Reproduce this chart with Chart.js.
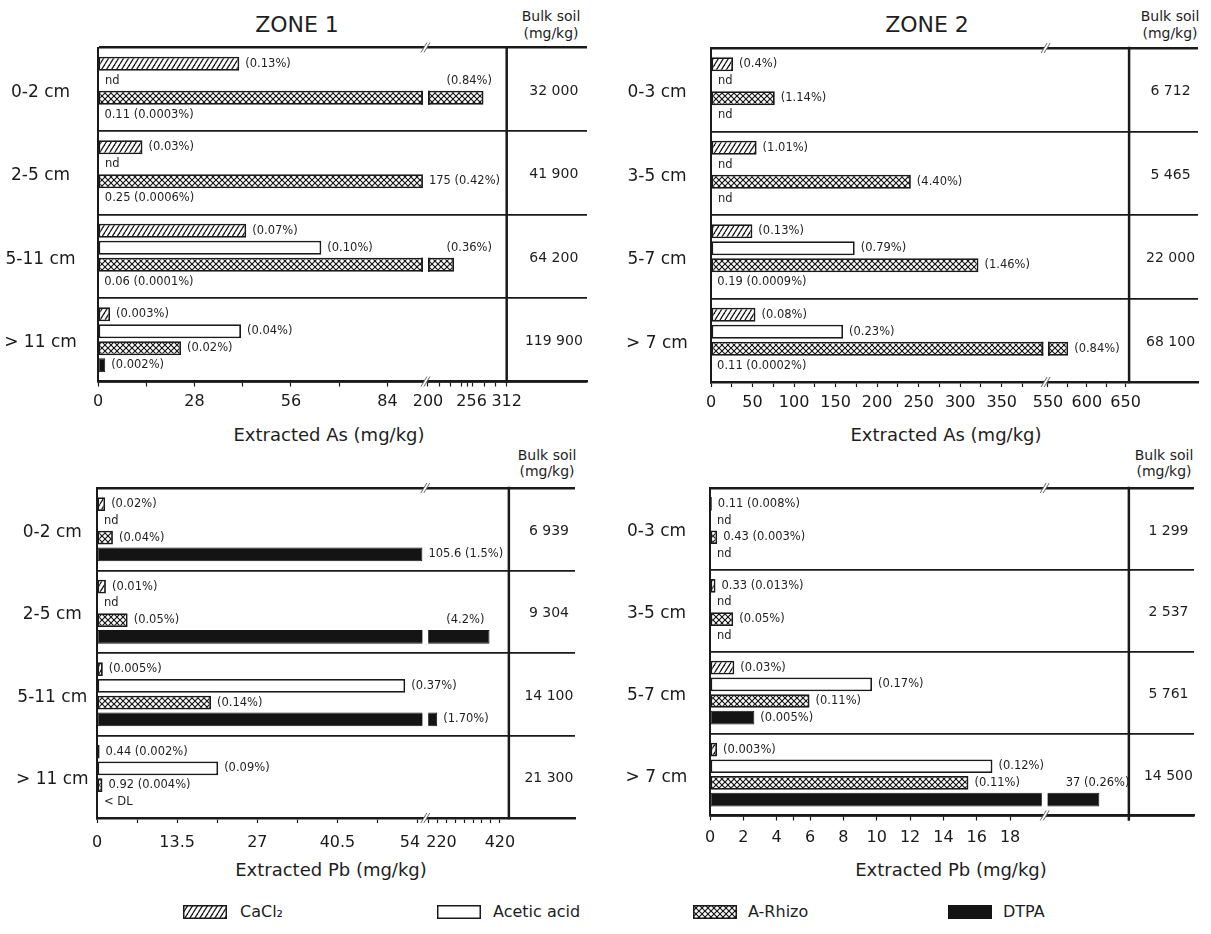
<!DOCTYPE html>
<html>
<head>
<meta charset="utf-8">
<script src="https://cdn.jsdelivr.net/npm/chart.js@4.4.1/dist/chart.umd.min.js"></script>
<style>
  body { margin:0; background:#fff; }
  #wrap { position:relative; width:1211px; height:934px; overflow:hidden; font-family:"DejaVu Sans", sans-serif; color:#1e1e1e; }
  canvas.c { position:absolute; }
  .t { position:absolute; white-space:nowrap; transform:translate(-50%,-50%); line-height:1; }
  .bulk { position:absolute; transform:translateX(-50%); text-align:center; font-size:14px; white-space:nowrap; }
  .sw { position:absolute; }
  .lt { position:absolute; transform:translateY(-50%); font-size:16px; white-space:nowrap; line-height:1; }
</style>
</head>
<body>
<div id="wrap">
  <div class="t" style="left:297px;top:25px;font-size:22px">ZONE 1</div>
  <div class="t" style="left:927px;top:25px;font-size:22px">ZONE 2</div>
  <div class="bulk" style="left:551px;top:8px;line-height:16.6px">Bulk soil<br>(mg/kg)</div>
  <div class="bulk" style="left:1170px;top:8px;line-height:16.6px">Bulk soil<br>(mg/kg)</div>
  <div class="bulk" style="left:547px;top:448px;line-height:15.5px">Bulk soil<br>(mg/kg)</div>
  <div class="bulk" style="left:1164px;top:448px;line-height:15.5px">Bulk soil<br>(mg/kg)</div>
  <div class="t" style="left:329px;top:435px;font-size:18px">Extracted As (mg/kg)</div>
  <div class="t" style="left:946px;top:435px;font-size:18px">Extracted As (mg/kg)</div>
  <div class="t" style="left:331px;top:870px;font-size:18px">Extracted Pb (mg/kg)</div>
  <div class="t" style="left:951px;top:870px;font-size:18px">Extracted Pb (mg/kg)</div>
  <canvas id="p1" class="c" width="605" height="425" style="left:0px;top:0px"></canvas>
  <canvas id="p2" class="c" width="606" height="425" style="left:605px;top:0px"></canvas>
  <canvas id="p3" class="c" width="605" height="430" style="left:0px;top:440px"></canvas>
  <canvas id="p4" class="c" width="606" height="430" style="left:605px;top:440px"></canvas>
</div>
<script>
// ---------------- DATA ----------------
const depthZ1 = ['0-2 cm', '2-5 cm', '5-11 cm', '> 11 cm'];
const depthZ2 = ['0-3 cm', '3-5 cm', '5-7 cm', '> 7 cm'];
const extractants = ['CaCl₂', 'Acetic acid', 'A-Rhizo', 'DTPA'];

// Extracted As, zone 1 (mg/kg)
const asZ1CaCl2  = [41, 12.9, 43, 3.5];
const asZ1Acetic = [null, null, 64.8, 41.5];
const asZ1ARhizo = [279, 175, 237, 24.1];
const asZ1DTPA   = [0.11, 0.25, 0.06, 2.1];
const asZ1Bulk   = ['32 000', '41 900', '64 200', '119 900'];
const asZ1NoteCaCl2  = ['(0.13%)', '(0.03%)', '(0.07%)', '(0.003%)'];
const asZ1NoteAcetic = ['nd', 'nd', '(0.10%)', '(0.04%)'];
const asZ1NoteARhizo = ['(0.84%)', '175 (0.42%)', '(0.36%)', '(0.02%)'];
const asZ1NoteDTPA   = ['0.11 (0.0003%)', '0.25 (0.0006%)', '0.06 (0.0001%)', '(0.002%)'];
const asZ1TicksMajor = [0, 28, 56, 84, 200, 256, 312];
const asZ1TicksMinor = [14, 42, 70, 216, 232, 248, 264, 280, 296];

// Extracted As, zone 2 (mg/kg)
const asZ2CaCl2  = [26.5, 54.9, 49.8, 53.5];
const asZ2Acetic = [null, null, 173, 159];
const asZ2ARhizo = [76.8, 240.6, 322, 576];
const asZ2DTPA   = [null, null, 0.19, 0.11];
const asZ2Bulk   = ['6 712', '5 465', '22 000', '68 100'];
const asZ2NoteCaCl2  = ['(0.4%)', '(1.01%)', '(0.13%)', '(0.08%)'];
const asZ2NoteAcetic = ['nd', 'nd', '(0.79%)', '(0.23%)'];
const asZ2NoteARhizo = ['(1.14%)', '(4.40%)', '(1.46%)', '(0.84%)'];
const asZ2NoteDTPA   = ['nd', 'nd', '0.19 (0.0009%)', '0.11 (0.0002%)'];
const asZ2TicksMajor = [0, 50, 100, 150, 200, 250, 300, 350, 550, 600, 650];
const asZ2TicksMinor = [25, 75, 125, 175, 225, 275, 325, 375, 575, 625];

// Extracted Pb, zone 1 (mg/kg)
const pbZ1CaCl2  = [1.37, 1.5, 0.98, 0.44];
const pbZ1Acetic = [null, null, 51.9, 20.4];
const pbZ1ARhizo = [2.68, 5.16, 19.2, 0.92];
const pbZ1DTPA   = [105.6, 391, 245, null];
const pbZ1Bulk   = ['6 939', '9 304', '14 100', '21 300'];
const pbZ1NoteCaCl2  = ['(0.02%)', '(0.01%)', '(0.005%)', '0.44 (0.002%)'];
const pbZ1NoteAcetic = ['nd', 'nd', '(0.37%)', '(0.09%)'];
const pbZ1NoteARhizo = ['(0.04%)', '(0.05%)', '(0.14%)', '0.92 (0.004%)'];
const pbZ1NoteDTPA   = ['105.6 (1.5%)', '(4.2%)', '(1.70%)', '< DL'];
const pbZ1TicksMajor = [0, 13.5, 27, 40.5, 54, 220, 420];
const pbZ1TicksMinor = [6.75, 20.25, 33.75, 47.25, 245, 270, 295, 320, 345, 370, 395];

// Extracted Pb, zone 2 (mg/kg)
const pbZ2CaCl2  = [0.11, 0.33, 1.46, 0.42];
const pbZ2Acetic = [null, null, 9.72, 16.94];
const pbZ2ARhizo = [0.43, 1.39, 5.97, 15.5];
const pbZ2DTPA   = [null, null, 2.66, 37];
const pbZ2Bulk   = ['1 299', '2 537', '5 761', '14 500'];
const pbZ2NoteCaCl2  = ['0.11 (0.008%)', '0.33 (0.013%)', '(0.03%)', '(0.003%)'];
const pbZ2NoteAcetic = ['nd', 'nd', '(0.17%)', '(0.12%)'];
const pbZ2NoteARhizo = ['0.43 (0.003%)', '(0.05%)', '(0.11%)', '(0.11%)'];
const pbZ2NoteDTPA   = ['nd', 'nd', '(0.005%)', '37 (0.26%)'];
const pbZ2TicksMajor = [0, 2, 4, 6, 8, 10, 12, 14, 16, 18];
const pbZ2TicksMinor = [5];

// ---------------- LAYOUT ----------------
const PANELS = [
  { id:'p1', w:605, h:425, area:{left:98, right:587, top:47.5, bottom:381.5}, yCenter:40.5, tickPad:6,
    cats:depthZ1, series:[asZ1CaCl2, asZ1Acetic, asZ1ARhizo, asZ1DTPA],
    notes:[asZ1NoteCaCl2, asZ1NoteAcetic, asZ1NoteARhizo, asZ1NoteDTPA], bulk:asZ1Bulk,
    major:asZ1TicksMajor, minor:asZ1TicksMinor, labelAt:{256:262}, above:[[2,0],[2,2]],
    brk:{lowMax:94.3, upStart:200, upOffset:95.76, upFactor:0.2039, max:141.9, border:312, ext:0} },
  { id:'p2', w:606, h:425, area:{left:106, right:593, top:48, bottom:382}, yCenter:52, tickPad:6.5,
    cats:depthZ2, series:[asZ2CaCl2, asZ2Acetic, asZ2ARhizo, asZ2DTPA],
    notes:[asZ2NoteCaCl2, asZ2NoteAcetic, asZ2NoteARhizo, asZ2NoteDTPA], bulk:asZ2Bulk,
    major:asZ2TicksMajor, minor:asZ2TicksMinor, labelAt:{}, above:[],
    brk:{lowMax:400, upStart:550, upOffset:405.7, upFactor:0.9343, max:586.3, border:654.5, ext:0} },
  { id:'p3', w:605, h:430, area:{left:97, right:575, top:48, bottom:378}, yCenter:52.3, tickPad:10,
    cats:depthZ1, series:[pbZ1CaCl2, pbZ1Acetic, pbZ1ARhizo, pbZ1DTPA],
    notes:[pbZ1NoteCaCl2, pbZ1NoteAcetic, pbZ1NoteARhizo, pbZ1NoteDTPA], bulk:pbZ1Bulk,
    major:pbZ1TicksMajor, minor:pbZ1TicksMinor, labelAt:{54:52.7, 220:257}, above:[[3,1]],
    brk:{lowMax:54.8, upStart:220, upOffset:55.78, upFactor:0.06036, max:80.5, border:445, ext:0} },
  { id:'p4', w:606, h:430, area:{left:105, right:589, top:48, bottom:375.5}, yCenter:51.5, tickPad:8,
    cats:depthZ2, series:[pbZ2CaCl2, pbZ2Acetic, pbZ2ARhizo, pbZ2DTPA],
    notes:[pbZ2NoteCaCl2, pbZ2NoteAcetic, pbZ2NoteARhizo, pbZ2NoteDTPA], bulk:pbZ2Bulk,
    major:pbZ2TicksMajor, minor:pbZ2TicksMinor, labelAt:{}, above:[[3,3]],
    brk:{lowMax:19.9, upStart:30, upOffset:20.25, upFactor:0.443, max:29.03, border:41, ext:4} }
];
const LEGEND_POS = [ {sw:183, tx:240}, {sw:437, tx:493}, {sw:693, tx:748}, {sw:948, tx:1003} ];
const LEGEND_Y = 912;

// ---------------- BROKEN AXIS SCALE ----------------
const BRK = {};
const LinearScale = Chart.LinearScale || Chart.registry.getScale('linear');
class BrokenScale extends LinearScale {
  static id = 'broken';
  static defaults = {};
  mapValue(v) {
    const b = BRK[this.chart.canvas.id];
    if (v <= b.lowMax) return v;
    if (v < b.upStart) return b.lowMax;
    return b.upOffset + (v - b.upStart) * b.upFactor;
  }
  getPixelForValue(v) {
    if (v === null || v === undefined || isNaN(v)) return NaN;
    return super.getPixelForValue(this.mapValue(v));
  }
  pixelForDisplay(d) { return super.getPixelForValue(d); }
}
Chart.register(BrokenScale);

Chart.defaults.font.family = '"DejaVu Sans", sans-serif';
Chart.defaults.color = '#1e1e1e';

// ---------------- PATTERNS ----------------
function hatchTile() {
  const c = document.createElement('canvas'); c.width = 5; c.height = 8;
  const g = c.getContext('2d');
  g.fillStyle = '#fff'; g.fillRect(0, 0, 5, 8);
  g.strokeStyle = '#151515'; g.lineWidth = 1.3;
  for (let k = -1; k <= 1; k++) { g.beginPath(); g.moveTo(k*5, 8); g.lineTo(k*5 + 5, 0); g.stroke(); }
  return c;
}
function crossTile() {
  const c = document.createElement('canvas'); c.width = 6; c.height = 6;
  const g = c.getContext('2d');
  g.fillStyle = '#fff'; g.fillRect(0, 0, 6, 6);
  g.strokeStyle = '#151515'; g.lineWidth = 1.15;
  for (let k = -1; k <= 1; k++) {
    g.beginPath(); g.moveTo(k*6, 0); g.lineTo(k*6 + 6, 6); g.stroke();
    g.beginPath(); g.moveTo(k*6, 6); g.lineTo(k*6 + 6, 0); g.stroke();
  }
  return c;
}
const HT = hatchTile(), CT = crossTile();
function styles(ctx) {
  return [
    { backgroundColor: ctx.createPattern(HT, 'repeat'), borderColor:'#1a1a1a', borderWidth:1.8 },
    { backgroundColor: '#ffffff', borderColor:'#1a1a1a', borderWidth:1.8 },
    { backgroundColor: ctx.createPattern(CT, 'repeat'), borderColor:'#1a1a1a', borderWidth:1.8 },
    { backgroundColor: '#141414', borderColor:'#141414', borderWidth:1 }
  ];
}

// ---------------- DECORATION PLUGIN ----------------
function decoPlugin(P) {
  return {
    id: 'deco',
    afterDatasetsDraw(chart) {
      const ctx = chart.ctx, xs = chart.scales.x, ys = chart.scales.y, a = chart.chartArea, b = P.brk;
      const lowPx = xs.pixelForDisplay(b.lowMax), upPx = xs.pixelForDisplay(b.upOffset);
      const breakPx = (lowPx + upPx) / 2;
      const zeroPx = xs.getPixelForValue(0);
      ctx.save();
      // gaps in bars crossing the break
      P.series.forEach((vals, si) => {
        const meta = chart.getDatasetMeta(si);
        vals.forEach((v, j) => {
          if (v == null || v < b.upStart) return;
          const el = meta.data[j], h = el.height;
          ctx.fillStyle = '#fff';
          ctx.fillRect(lowPx, el.y - h/2 - 1, upPx - lowPx, h + 2);
          if (si < 3) {
            ctx.strokeStyle = '#1a1a1a'; ctx.lineWidth = 1.8;
            ctx.beginPath();
            ctx.moveTo(lowPx - 0.9, el.y - h/2); ctx.lineTo(lowPx - 0.9, el.y + h/2);
            ctx.moveTo(upPx + 0.9, el.y - h/2); ctx.lineTo(upPx + 0.9, el.y + h/2);
            ctx.stroke();
          }
        });
      });
      // value notes
      ctx.font = '11.5px "DejaVu Sans"'; ctx.fillStyle = '#1e1e1e';
      ctx.textBaseline = 'middle'; ctx.textAlign = 'left';
      P.notes.forEach((arr, si) => {
        const meta = chart.getDatasetMeta(si);
        arr.forEach((txt, j) => {
          if (!txt) return;
          const el = meta.data[j];
          const v = P.series[si][j];
          const above = P.above.some(p => p[0] === si && p[1] === j);
          let x, y;
          if (above) {
            const prev = chart.getDatasetMeta(si - 1).data[j];
            x = breakPx + 21; y = prev.y;
          } else if (v == null) {
            x = zeroPx + 7; y = el.y;
          } else {
            x = Math.max(xs.getPixelForValue(v), zeroPx) + 6; y = el.y;
          }
          ctx.fillText(txt, x, y);
        });
      });
      // right border of the bar region
      const bx = xs.getPixelForValue(b.border);
      ctx.strokeStyle = '#1a1a1a'; ctx.lineWidth = 2.5;
      ctx.beginPath(); ctx.moveTo(bx, a.top - 1.2); ctx.lineTo(bx, a.bottom + 1.2 + b.ext); ctx.stroke();
      // bulk soil column
      ctx.font = '14px "DejaVu Sans"'; ctx.textAlign = 'center';
      P.bulk.forEach((t, j) => ctx.fillText(t, (bx + a.right) / 2 + 7, ys.getPixelForValue(j) + 2));
      // break marks
      [a.top, a.bottom].forEach(y => {
        ctx.fillStyle = '#fff';
        ctx.beginPath();
        ctx.moveTo(breakPx - 4.5, y + 5); ctx.lineTo(breakPx + 1.5, y - 5);
        ctx.lineTo(breakPx + 4.5, y - 5); ctx.lineTo(breakPx - 1.5, y + 5);
        ctx.closePath(); ctx.fill();
        ctx.strokeStyle = '#666'; ctx.lineWidth = 1;
        ctx.beginPath();
        ctx.moveTo(breakPx - 4.5, y + 5); ctx.lineTo(breakPx + 1.5, y - 5);
        ctx.moveTo(breakPx - 1.5, y + 5); ctx.lineTo(breakPx + 4.5, y - 5);
        ctx.stroke();
      });
      ctx.restore();
    }
  };
}

// ---------------- BUILD ----------------
function buildTicks(P) {
  const out = [];
  P.major.forEach(v => {
    const at = P.labelAt[v];
    if (at === undefined) out.push({ value: v, lab: String(v), mark: true });
    else { out.push({ value: v, lab: '', mark: true }); out.push({ value: at, lab: String(v), mark: false }); }
  });
  P.minor.forEach(v => out.push({ value: v, lab: '', mark: true }));
  out.sort((p, q) => p.value - q.value);
  return out;
}
const measure = document.createElement('canvas').getContext('2d');
measure.font = '17px "DejaVu Sans"';

PANELS.forEach(P => {
  BRK[P.id] = P.brk;
  const cv = document.getElementById(P.id);
  const ctx = cv.getContext('2d');
  const st = styles(ctx);
  const ticks = buildTicks(P);
  const widest = Math.max(...P.cats.map(c => measure.measureText(c).width));
  const yPad = P.area.left - P.yCenter - widest / 2;
  new Chart(ctx, {
    type: 'bar',
    data: {
      labels: P.cats,
      datasets: P.series.map((vals, i) => Object.assign({ label: extractants[i], data: vals }, st[i]))
    },
    options: {
      indexAxis: 'y', responsive: false, animation: false, devicePixelRatio: 1,
      layout: { padding: { left: 0, top: P.area.top, right: P.w - P.area.right, bottom: 0 } },
      datasets: { bar: { categoryPercentage: 0.815, barPercentage: 0.82, borderSkipped: false } },
      plugins: { legend: { display: false }, tooltip: { enabled: false } },
      scales: {
        x: {
          type: 'broken', position: 'bottom', min: 0, max: P.brk.max, bounds: 'data',
          afterBuildTicks: s => { s.ticks = ticks.map(t => Object.assign({}, t)); },
          afterFit: s => { s.height = P.h - P.area.bottom; },
          grid: { drawOnChartArea: false, drawTicks: true, tickLength: 5, tickWidth: 1.2,
                  tickColor: c => (c.tick && c.tick.mark === false) ? 'rgba(0,0,0,0)' : '#1a1a1a' },
          border: { display: true, color: '#1a1a1a', width: 2.5 },
          ticks: { autoSkip: false, maxRotation: 0, minRotation: 0, padding: P.tickPad,
                   font: { size: 16 }, color: '#1a1a1a',
                   callback: (v, i, arr) => (arr[i] && arr[i].lab) ? arr[i].lab : '' }
        },
        y: {
          type: 'category', offset: true,
          afterFit: s => { s.width = P.area.left; },
          grid: { display: true, offset: true, drawTicks: false, color: '#1a1a1a',
                  lineWidth: c => c.index === 0 ? 2.5 : 1.8 },
          border: { display: true, color: '#1a1a1a', width: 2 },
          ticks: { crossAlign: 'center', padding: yPad, labelOffset: 3, font: { size: 17 }, color: '#1a1a1a' }
        }
      }
    },
    plugins: [decoPlugin(P)]
  });
});

// ---------------- LEGEND ----------------
const wrap = document.getElementById('wrap');
extractants.forEach((name, i) => {
  const sw = document.createElement('canvas');
  sw.className = 'sw'; sw.width = 44; sw.height = 14;
  sw.style.left = LEGEND_POS[i].sw + 'px'; sw.style.top = (LEGEND_Y - 7) + 'px';
  const g = sw.getContext('2d');
  const s = styles(g)[i];
  g.fillStyle = s.backgroundColor; g.fillRect(0, 0, 44, 14);
  g.strokeStyle = s.borderColor; g.lineWidth = 1.5; g.strokeRect(0.75, 0.75, 42.5, 12.5);
  wrap.appendChild(sw);
  const t = document.createElement('div');
  t.className = 'lt'; t.textContent = name;
  t.style.left = LEGEND_POS[i].tx + 'px'; t.style.top = LEGEND_Y + 'px';
  wrap.appendChild(t);
});
</script>
</body>
</html>
